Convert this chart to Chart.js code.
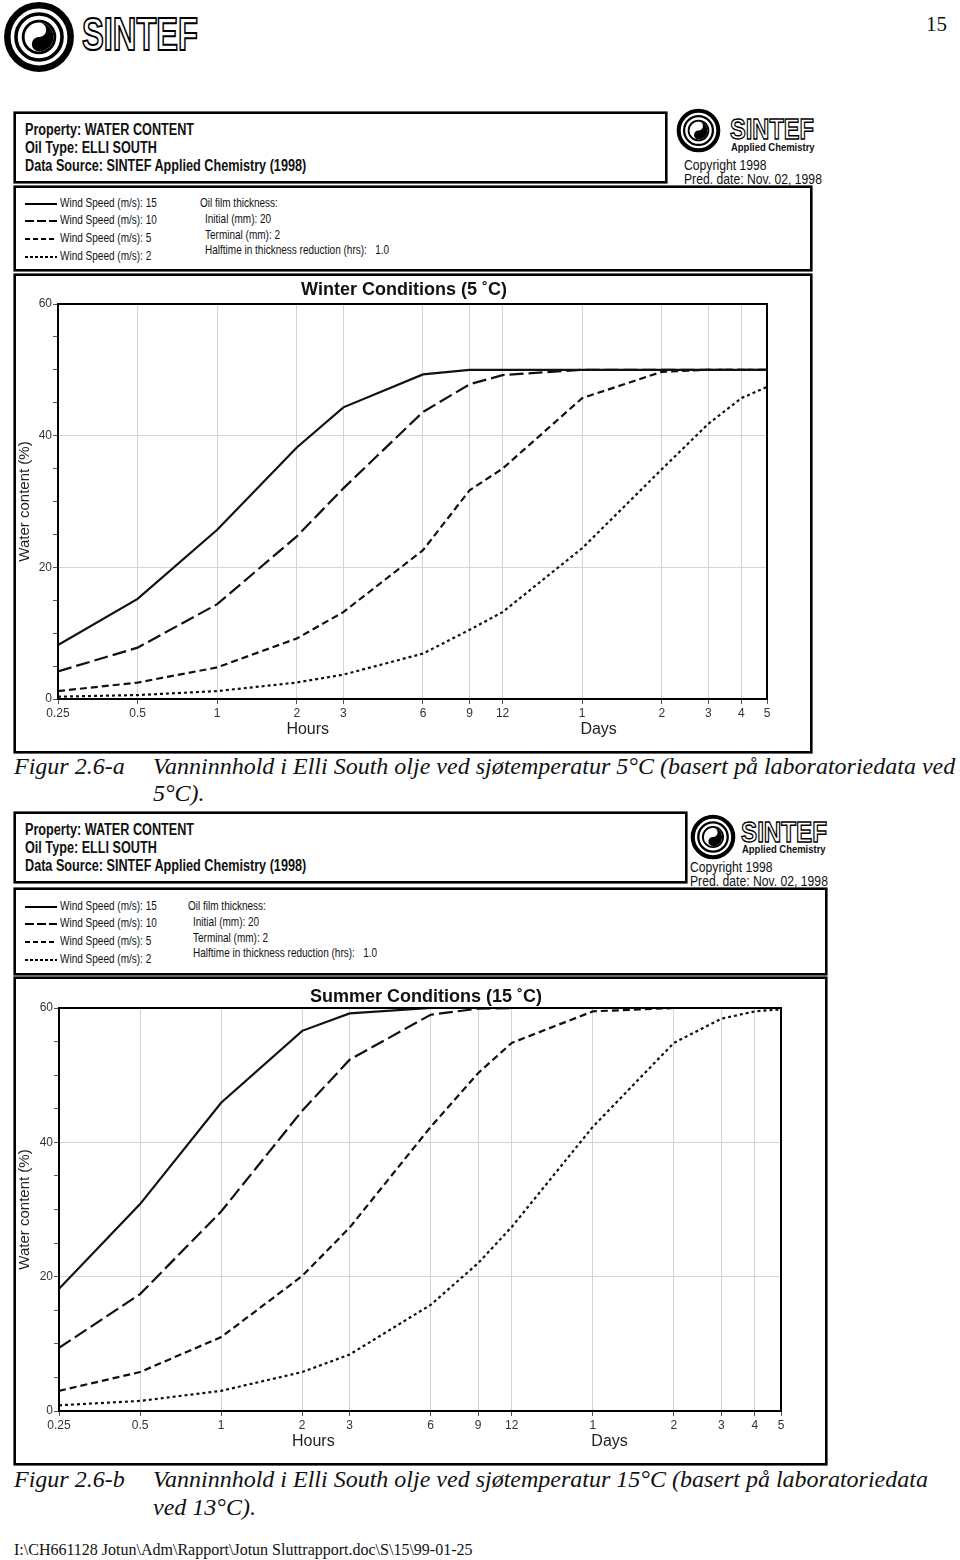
<!DOCTYPE html>
<html>
<head>
<meta charset="utf-8">
<script src="https://cdn.jsdelivr.net/npm/chart.js@4.4.1/dist/chart.umd.min.js"></script>
<style>
  body { margin: 0; background: #fff; }
  #page { position: relative; width: 960px; height: 1560px; overflow: hidden; color: #111;
          font-family: 'Liberation Sans Narrow', 'Arial Narrow', 'Liberation Sans', sans-serif; }
  .abs { position: absolute; }
  .box { position: absolute; border: 2px solid #000; box-sizing: border-box; box-shadow: 0 0 0 0.6px #000; }
  .hdr { padding: 7px 0 0 9px; }
  .hdr div { font-weight: bold; font-size: 16px; line-height: 18px; white-space: nowrap; transform: scaleX(0.79); transform-origin: 0 50%; }
  .leg svg { position: absolute; left: 8px; }
  .nx { position: absolute; font-size: 13px; white-space: nowrap; transform: scaleX(0.77); transform-origin: 0 50%; }
  .cp { position: absolute; font-size: 14px; white-space: nowrap; transform: scaleX(0.87); transform-origin: 0 50%; }
  .ac { position: absolute; font-family: 'Liberation Sans', sans-serif; font-weight: bold; font-size: 11px; white-space: nowrap; transform: scaleX(0.86); transform-origin: 0 50%; }
  .ctitle { position: absolute; font-family: 'Liberation Sans', Arial, sans-serif; font-weight: bold; font-size: 18px; white-space: nowrap; transform: translate(-50%, -50%); }
  .cap { position: absolute; font-family: 'Liberation Serif', 'Times New Roman', serif; font-style: italic; font-size: 24px; white-space: nowrap; }
</style>
</head>
<body>
<div id="page">
  <!-- top-left logo -->
  <svg class="abs" style="left:3px;top:1px" width="72" height="72" viewBox="0 0 100 100">
    <circle cx="50" cy="50" r="44" fill="none" stroke="#000" stroke-width="9"/>
    <circle cx="50" cy="50" r="32" fill="none" stroke="#000" stroke-width="5"/>
    <circle cx="50" cy="50" r="22" fill="none" stroke="#000" stroke-width="4"/>
    <path d="M50,30 A20,20 0 0 1 50,70 A10,10 0 0 1 50,50 A10,10 0 0 0 50,30 Z" fill="#000"/>
  </svg>
  <svg class="abs" style="left:80px;top:10px" width="122" height="44">
    <text x="2" y="40" textLength="116" lengthAdjust="spacingAndGlyphs" font-family="Liberation Sans Narrow, Liberation Sans, sans-serif" font-weight="bold" font-size="46" fill="#fff" stroke="#000" stroke-width="2">SINTEF</text>
  </svg>
  <div class="abs" style="left:926px;top:12px;font-family:'Liberation Serif',serif;font-size:21px">15</div>

  <!-- figure a -->
  <div class="box hdr" style="left:14px;top:112px;width:653px;height:71px">
    <div>Property: WATER CONTENT</div><div>Oil Type: ELLI SOUTH</div><div>Data Source: SINTEF Applied Chemistry (1998)</div>
  </div>
  <svg class="abs" style="left:676px;top:108px" width="45" height="45" viewBox="0 0 100 100">
    <circle cx="50" cy="50" r="44" fill="none" stroke="#000" stroke-width="9"/>
    <circle cx="50" cy="50" r="32" fill="none" stroke="#000" stroke-width="5"/>
    <circle cx="50" cy="50" r="22" fill="none" stroke="#000" stroke-width="4"/>
    <path d="M50,30 A20,20 0 0 1 50,70 A10,10 0 0 1 50,50 A10,10 0 0 0 50,30 Z" fill="#000"/>
  </svg>
  <svg class="abs" style="left:729px;top:113px" width="88" height="30">
    <text x="1" y="26" textLength="84" lengthAdjust="spacingAndGlyphs" font-family="Liberation Sans Narrow, Liberation Sans, sans-serif" font-weight="bold" font-size="30" fill="#fff" stroke="#000" stroke-width="1.4">SINTEF</text>
  </svg>
  <div class="ac" style="left:731px;top:141px">Applied Chemistry</div>
  <div class="cp" style="left:684px;top:157px">Copyright 1998</div>
  <div class="cp" style="left:684px;top:171px">Pred. date: Nov. 02, 1998</div>

  <div class="box leg" style="left:14px;top:186px;width:798px;height:85px">
    <svg style="top:9px" width="34" height="14"><line x1="1" y1="7" x2="33" y2="7" stroke="#000" stroke-width="2"/></svg>
    <div class="nx" style="left:44px;top:7px">Wind Speed (m/s): 15</div>
    <svg style="top:26px" width="34" height="14"><line x1="1" y1="7" x2="33" y2="7" stroke="#000" stroke-width="2" stroke-dasharray="9,3"/></svg>
    <div class="nx" style="left:44px;top:24px">Wind Speed (m/s): 10</div>
    <svg style="top:44px" width="34" height="14"><line x1="1" y1="7" x2="33" y2="7" stroke="#000" stroke-width="2" stroke-dasharray="5,3"/></svg>
    <div class="nx" style="left:44px;top:42px">Wind Speed (m/s): 5</div>
    <svg style="top:62px" width="34" height="14"><line x1="1" y1="7" x2="33" y2="7" stroke="#000" stroke-width="2" stroke-dasharray="3,2"/></svg>
    <div class="nx" style="left:44px;top:60px">Wind Speed (m/s): 2</div>
    <div class="nx" style="left:184px;top:7px">Oil film thickness:</div>
    <div class="nx" style="left:189px;top:23px">Initial (mm): 20</div>
    <div class="nx" style="left:189px;top:39px">Terminal (mm): 2</div>
    <div class="nx" style="left:189px;top:54px">Halftime in thickness reduction (hrs):&nbsp;&nbsp; 1.0</div>
  </div>

  <div class="box" style="left:14px;top:274px;width:798px;height:479px"></div>
  <canvas id="winter" class="abs" style="left:16px;top:276px" width="794" height="475"></canvas>
  <div class="ctitle" style="left:404px;top:289px">Winter Conditions (5 ˚C)</div>

  <div class="cap" style="left:14px;top:753px">Figur 2.6-a</div>
  <div class="cap" style="left:153px;top:753px">Vanninnhold i Elli South olje ved sjøtemperatur 5°C (basert på laboratoriedata ved</div>
  <div class="cap" style="left:153px;top:780px">5°C).</div>

  <!-- figure b -->
  <div class="box hdr" style="left:14px;top:812px;width:673px;height:71px">
    <div>Property: WATER CONTENT</div><div>Oil Type: ELLI SOUTH</div><div>Data Source: SINTEF Applied Chemistry (1998)</div>
  </div>
  <svg class="abs" style="left:690px;top:814px" width="46" height="46" viewBox="0 0 100 100">
    <circle cx="50" cy="50" r="44" fill="none" stroke="#000" stroke-width="9"/>
    <circle cx="50" cy="50" r="32" fill="none" stroke="#000" stroke-width="5"/>
    <circle cx="50" cy="50" r="22" fill="none" stroke="#000" stroke-width="4"/>
    <path d="M50,30 A20,20 0 0 1 50,70 A10,10 0 0 1 50,50 A10,10 0 0 0 50,30 Z" fill="#000"/>
  </svg>
  <svg class="abs" style="left:740px;top:816px" width="90" height="30">
    <text x="1" y="26" textLength="86" lengthAdjust="spacingAndGlyphs" font-family="Liberation Sans Narrow, Liberation Sans, sans-serif" font-weight="bold" font-size="29" fill="#fff" stroke="#000" stroke-width="1.4">SINTEF</text>
  </svg>
  <div class="ac" style="left:742px;top:843px">Applied Chemistry</div>
  <div class="cp" style="left:690px;top:859px">Copyright 1998</div>
  <div class="cp" style="left:690px;top:873px">Pred. date: Nov. 02, 1998</div>

  <div class="box leg" style="left:14px;top:888px;width:813px;height:87px">
    <svg style="top:10px" width="34" height="14"><line x1="1" y1="7" x2="33" y2="7" stroke="#000" stroke-width="2"/></svg>
    <div class="nx" style="left:44px;top:8px">Wind Speed (m/s): 15</div>
    <svg style="top:27px" width="34" height="14"><line x1="1" y1="7" x2="33" y2="7" stroke="#000" stroke-width="2" stroke-dasharray="9,3"/></svg>
    <div class="nx" style="left:44px;top:25px">Wind Speed (m/s): 10</div>
    <svg style="top:45px" width="34" height="14"><line x1="1" y1="7" x2="33" y2="7" stroke="#000" stroke-width="2" stroke-dasharray="5,3"/></svg>
    <div class="nx" style="left:44px;top:43px">Wind Speed (m/s): 5</div>
    <svg style="top:63px" width="34" height="14"><line x1="1" y1="7" x2="33" y2="7" stroke="#000" stroke-width="2" stroke-dasharray="3,2"/></svg>
    <div class="nx" style="left:44px;top:61px">Wind Speed (m/s): 2</div>
    <div class="nx" style="left:172px;top:8px">Oil film thickness:</div>
    <div class="nx" style="left:177px;top:24px">Initial (mm): 20</div>
    <div class="nx" style="left:177px;top:40px">Terminal (mm): 2</div>
    <div class="nx" style="left:177px;top:55px">Halftime in thickness reduction (hrs):&nbsp;&nbsp; 1.0</div>
  </div>

  <div class="box" style="left:14px;top:977px;width:813px;height:488px"></div>
  <canvas id="summer" class="abs" style="left:16px;top:979px" width="809" height="484"></canvas>
  <div class="ctitle" style="left:426px;top:996px">Summer Conditions (15 ˚C)</div>

  <div class="cap" style="left:14px;top:1466px">Figur 2.6-b</div>
  <div class="cap" style="left:153px;top:1466px">Vanninnhold i Elli South olje ved sjøtemperatur 15°C (basert på laboratoriedata</div>
  <div class="cap" style="left:153px;top:1494px">ved 13°C).</div>

  <div class="abs" style="left:14px;top:1541px;font-family:'Liberation Serif',serif;font-size:16px;white-space:nowrap">I:\CH661128 Jotun\Adm\Rapport\Jotun Sluttrapport.doc\S\15\99-01-25</div>
</div>

<script>
// time axis in hours (12 h, then 1..5 days)
const hours = [0.25, 0.5, 1, 2, 3, 6, 9, 12, 24, 48, 72, 96, 120];
const hourLabels = ['0.25', '0.5', '1', '2', '3', '6', '9', '12', '1', '2', '3', '4', '5'];
const windNames = ['Wind Speed (m/s): 15', 'Wind Speed (m/s): 10', 'Wind Speed (m/s): 5', 'Wind Speed (m/s): 2'];

// water content (%) - winter, 5 C
const winter15 = [8.2, 15.2, 25.7, 38.2, 44.3, 49.3, 50.0, 50.0, 50.0, 50.0, 50.0, 50.0, 50.0];
const winter10 = [4.2, 7.8, 14.4, 24.7, 32.0, 43.6, 47.8, 49.2, 50.0, 50.0, 50.0, 50.0, 50.0];
const winter5  = [1.2, 2.5, 4.8, 9.2, 13.2, 22.6, 31.7, 35.0, 45.7, 49.7, 50.0, 50.0, 50.0];
const winter2  = [0.35, 0.6, 1.2, 2.5, 3.7, 6.9, 10.5, 13.2, 22.9, 34.9, 41.8, 45.7, 47.4];

// water content (%) - summer, 15 C
const summer15 = [18.2, 30.8, 45.9, 56.6, 59.2, 60.0, 60.0, 60.0, 60.0, 60.0, 60.0, 60.0, 60.0];
const summer10 = [9.4, 17.4, 29.7, 44.7, 52.3, 59.0, 59.9, 60.0, 60.0, 60.0, 60.0, 60.0, 60.0];
const summer5  = [3.0, 5.8, 11.0, 20.1, 27.3, 42.3, 50.3, 54.8, 59.5, 60.0, 60.0, 60.0, 60.0];
const summer2  = [0.85, 1.5, 3.0, 5.8, 8.4, 15.8, 22.0, 27.4, 42.3, 54.8, 58.4, 59.5, 59.8];

const dashes = [[], [14, 5], [7, 4], [3, 3]];
const narrow = "'Liberation Sans Narrow', 'Arial Narrow', 'Liberation Sans', sans-serif";

const framePlugin = {
    id: 'frame',
    afterDraw(chart) {
        var ctx = chart.ctx, a = chart.chartArea, x = chart.scales.x;
        ctx.save();
        ctx.strokeStyle = '#000';
        ctx.lineWidth = 2;
        ctx.strokeRect(a.left, a.top, a.right - a.left, a.bottom - a.top);
        ctx.fillStyle = '#222';
        ctx.font = "16px 'Liberation Sans', Arial, sans-serif";
        ctx.textAlign = 'center';
        ctx.textBaseline = 'middle';
        ctx.fillText('Hours', x.getPixelForValue(2.2), a.bottom + 31);
        ctx.fillText('Days', x.getPixelForValue(27.7), a.bottom + 31);
        ctx.restore();
    }
};

function drawChart(id, series, pad) {
    var ctx = document.getElementById(id).getContext('2d');
    new Chart(ctx, {
        type: 'line',
        data: {
            datasets: series.map((vals, i) => ({
                label: windNames[i],
                data: hours.map((h, j) => ({ x: h, y: vals[j] })),
                borderColor: '#111',
                borderWidth: 2.2,
                borderDash: dashes[i],
                pointRadius: 0,
                tension: 0,
                fill: false
            }))
        },
        options: {
            responsive: false,
            devicePixelRatio: 1,
            animation: false,
            layout: { padding: { left: 0, right: pad.right, top: pad.top, bottom: 0 } },
            plugins: {
                legend: { display: false },
                tooltip: { enabled: false },
            },
            scales: {
                x: {
                    type: 'logarithmic',
                    min: 0.25,
                    max: 120,
                    afterBuildTicks: (s) => { s.ticks = hours.map(v => ({ value: v })); },
                    afterFit: (s) => { s.height = pad.bottom; },
                    border: { display: false },
                    grid: { color: '#d4d4d4', tickColor: '#555', tickLength: 5 },
                    ticks: {
                        autoSkip: false,
                        maxRotation: 0,
                        padding: 2,
                        color: '#333',
                        font: { family: narrow, size: 12 },
                        callback: (v, i) => hourLabels[i]
                    }
                },
                y: {
                    min: 0,
                    max: 60,
                    afterFit: (s) => { s.width = pad.left; },
                    border: { display: false },
                    grid: {
                        color: (c) => (c.tick.value % 20 === 0 && c.tick.value > 0 && c.tick.value < 60) ? '#d4d4d4' : 'rgba(0,0,0,0)',
                        tickColor: '#555',
                        tickLength: 5
                    },
                    ticks: {
                        stepSize: 5,
                        padding: 1,
                        color: '#333',
                        font: { family: narrow, size: 12 },
                        callback: (v) => (v % 20 === 0 ? v : '')
                    },
                    title: {
                        display: true,
                        text: 'Water content (%)',
                        color: '#222',
                        padding: 0,
                        font: { family: "'Liberation Sans', Arial, sans-serif", size: 15 }
                    }
                }
            }
        },
        plugins: [framePlugin]
    });
}

drawChart('winter', [winter15, winter10, winter5, winter2], { left: 42, right: 43, top: 28, bottom: 52 });
drawChart('summer', [summer15, summer10, summer5, summer2], { left: 43, right: 44, top: 29, bottom: 52 });
</script>
</body>
</html>
